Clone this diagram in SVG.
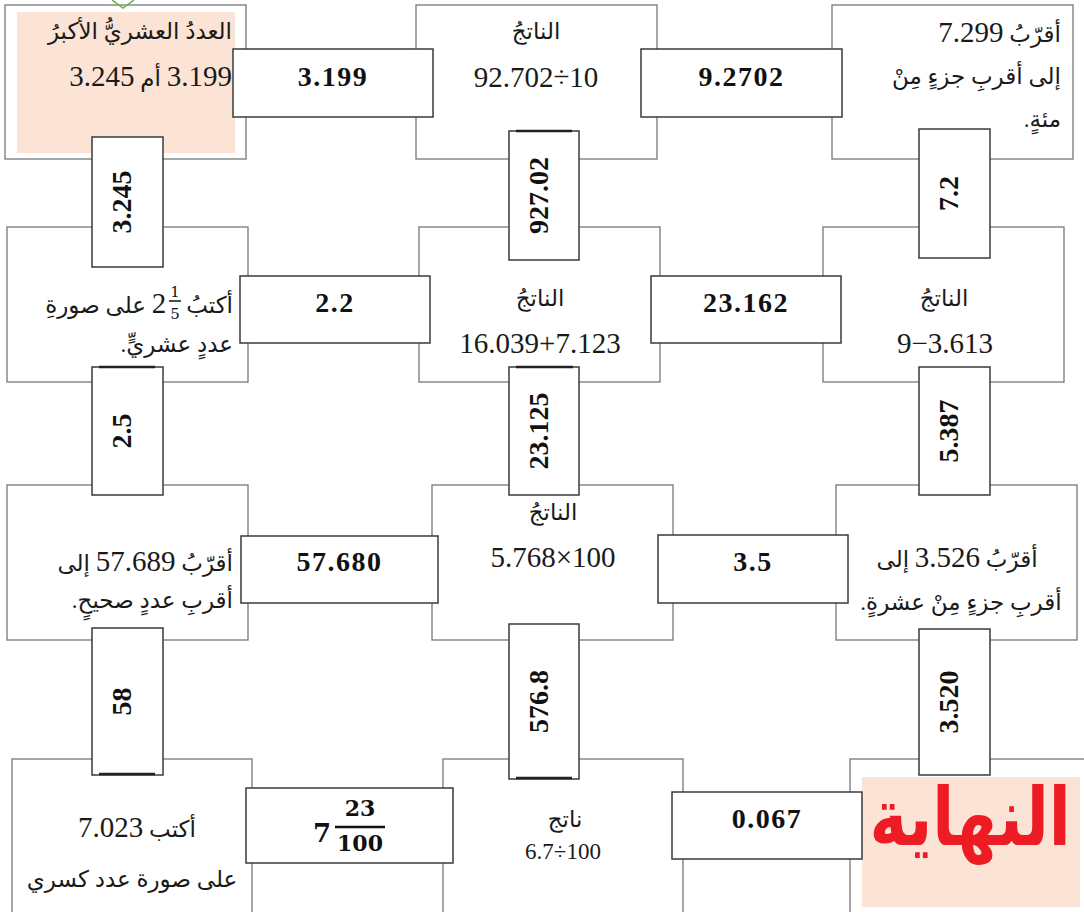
<svg xmlns="http://www.w3.org/2000/svg" width="1084" height="912" viewBox="0 0 1084 912">
<style>
.box{fill:#fff;stroke:#777;stroke-width:1.3}
.tile{fill:#fff;stroke:#3a3a3a;stroke-width:1.5}
.edge{stroke:#222;stroke-width:2.5}
.t{font-family:'Liberation Serif','DejaVu Sans',serif;font-size:23px;fill:#1a1a1a}
.n{font-size:29px}
.r{direction:rtl;text-anchor:start}
.c{text-anchor:middle}
.b{font-family:'Liberation Serif',serif;font-weight:bold;font-size:28px;letter-spacing:1.5px;fill:#111;text-anchor:middle}
.v{font-family:'Liberation Serif',serif;font-weight:bold;font-size:28px;fill:#111;text-anchor:middle}
.m{font-family:'DejaVu Serif',serif;fill:#111;text-anchor:middle}
</style>
<rect width="1084" height="912" fill="#fff"/>

<g id="q1">
<rect class="box" x="5" y="5" width="241" height="154"/>
<rect x="17" y="12" width="218" height="141" fill="#FBE4D5"/>
<text class="t r" x="232" y="39">العددُ العشريُّ الأكبرُ</text>
<text class="t r" x="232" y="86"><tspan class="n">3.199</tspan> أم <tspan class="n">3.245</tspan></text>
</g>
<g id="q2">
<rect class="box" x="416" y="5" width="241" height="154"/>
<text class="t c" x="536" y="39">الناتجُ</text>
<text class="t c n" x="536" y="87">92.702÷10</text>
</g>
<g id="q3">
<rect class="box" x="832" y="5" width="241" height="154"/>
<text class="t r" x="1061" y="42">أقرّبُ <tspan class="n">7.299</tspan></text>
<text class="t r" x="1061" y="84">إلى أقربِ جزءٍ مِنْ</text>
<text class="t r" x="1061" y="127">مئةٍ.</text>
</g>
<g id="q4">
<rect class="box" x="7" y="227" width="241" height="155"/>
<text class="t" x="233" y="313" text-anchor="end">أكتبُ</text>
<text class="m" x="175" y="297" font-size="15">1</text>
<line x1="169" y1="301" x2="181" y2="301" stroke="#111" stroke-width="1.5"/>
<text class="m" x="175" y="319" font-size="15">5</text>
<text class="t c n" x="159" y="313">2</text>
<text class="t" x="146" y="313" text-anchor="end">على صورةِ</text>
<text class="t r" x="233" y="352">عددٍ عشريٍّ.</text>
</g>
<g id="q5">
<rect class="box" x="419" y="227" width="241" height="155"/>
<text class="t c" x="540" y="306">الناتجُ</text>
<text class="t c n" x="540" y="353">16.039+7.123</text>
</g>
<g id="q6">
<rect class="box" x="823" y="227" width="241" height="155"/>
<text class="t c" x="944" y="306">الناتجُ</text>
<text class="t c n" x="945" y="353">9−3.613</text>
</g>
<g id="q7">
<rect class="box" x="7" y="485" width="241" height="155"/>
<text class="t r" x="233" y="571">أقرّبُ <tspan class="n">57.689</tspan> إلى</text>
<text class="t r" x="233" y="608">أقربِ عددٍ صحيحٍ.</text>
</g>
<g id="q8">
<rect class="box" x="432" y="485" width="241" height="155"/>
<text class="t c" x="553" y="520">الناتجُ</text>
<text class="t c n" x="553" y="567">5.768×100</text>
</g>
<g id="q9">
<rect class="box" x="836" y="485" width="241" height="155"/>
<text class="t r" x="957" y="567" style="text-anchor:middle">أقرّبُ <tspan class="n">3.526</tspan> إلى</text>
<text class="t r" x="961" y="610" style="text-anchor:middle">أقربِ جزءٍ مِنْ عشرةٍ.</text>
</g>
<g id="q10">
<rect class="box" x="12" y="759" width="240" height="200"/>
<text class="t r" x="137" y="837" style="text-anchor:middle">أكتب <tspan class="n">7.023</tspan></text>
<text class="t c" x="132" y="887" font-size="24">على صورة عدد كسري</text>
</g>
<g id="q11">
<rect class="box" x="443" y="759" width="240" height="200"/>
<text class="t c" x="565" y="827" font-size="14">ناتج</text>
<text class="t c" x="563" y="859" font-size="21">6.7÷100</text>
</g>
<g id="q12">
<rect class="box" x="850" y="759" width="260" height="200"/>
<rect x="862" y="777" width="218" height="130" fill="#FBE4D5"/>
<text transform="translate(970,845) scale(1,1.25)" font-family="'DejaVu Sans',sans-serif" font-weight="bold" font-size="64" fill="#ED1C24" text-anchor="middle">النهاية</text>
</g>
<polyline points="112,0 123,8 134,0" fill="none" stroke="#70AD47" stroke-width="1.5"/>

<g id="connectors">
<g id="a1"><rect class="tile" x="233" y="49" width="200" height="68"/><text class="b" x="333" y="86">3.199</text></g>
<g id="a2"><rect class="tile" x="641" y="49" width="201" height="68"/><text class="b" x="741.5" y="86">9.2702</text></g>
<g id="a3"><rect class="tile" x="92" y="137" width="71" height="130"/><text class="v" transform="translate(127.5,202) rotate(-90)" y="3.5">3.245</text></g>
<g id="a4"><rect class="tile" x="509" y="131" width="70" height="129"/><line class="edge" x1="516" y1="131" x2="572" y2="131"/><text class="v" transform="translate(544,195.5) rotate(-90)" y="3.5">927.02</text></g>
<g id="a5"><rect class="tile" x="919" y="129" width="71" height="129"/><text class="v" transform="translate(954.5,193.5) rotate(-90)" y="3.5">7.2</text></g>
<g id="a6"><rect class="tile" x="240" y="276" width="190" height="67"/><text class="b" x="335" y="312">2.2</text></g>
<g id="a7"><rect class="tile" x="651" y="276" width="190" height="67"/><text class="b" x="746" y="312">23.162</text></g>
<g id="a8"><rect class="tile" x="92" y="367" width="71" height="128"/><line class="edge" x1="99" y1="367" x2="155" y2="367"/><text class="v" transform="translate(127.5,431) rotate(-90)" y="3.5">2.5</text></g>
<g id="a9"><rect class="tile" x="509" y="367" width="70" height="128"/><line class="edge" x1="516" y1="367" x2="573" y2="367"/><text class="v" transform="translate(544,431) rotate(-90)" y="3.5">23.125</text></g>
<g id="a10"><rect class="tile" x="919" y="367" width="71" height="128"/><text class="v" transform="translate(954.5,431) rotate(-90)" y="3.5">5.387</text></g>
<g id="a11"><rect class="tile" x="241" y="536" width="197" height="67"/><text class="b" x="339.5" y="571">57.680</text></g>
<g id="a12"><rect class="tile" x="658" y="535" width="190" height="68"/><text class="b" x="753" y="571">3.5</text></g>
<g id="a13"><rect class="tile" x="92" y="628" width="71" height="147"/><line class="edge" x1="99" y1="774" x2="155" y2="774"/><text class="v" transform="translate(127.5,701.5) rotate(-90)" y="3.5">58</text></g>
<g id="a14"><rect class="tile" x="509" y="624" width="70" height="155"/><line class="edge" x1="516" y1="778" x2="572" y2="778"/><text class="v" transform="translate(544,701.5) rotate(-90)" y="3.5">576.8</text></g>
<g id="a15"><rect class="tile" x="919" y="629" width="71" height="146"/><text class="v" transform="translate(954.5,702) rotate(-90)" y="3.5">3.520</text></g>
<g id="a16"><rect class="tile" x="246" y="788" width="207" height="75"/>
<text class="m" x="322" y="842" font-size="26" font-weight="bold">7</text>
<text class="m" x="360" y="816" font-size="22" font-weight="bold">23</text>
<line x1="335" y1="827" x2="385" y2="827" stroke="#111" stroke-width="2.5"/>
<text class="m" x="360" y="851" font-size="22" font-weight="bold">100</text></g>
<g id="a17"><rect class="tile" x="672" y="792" width="190" height="67"/><text class="b" x="767" y="828">0.067</text></g>
</g>
</svg>
